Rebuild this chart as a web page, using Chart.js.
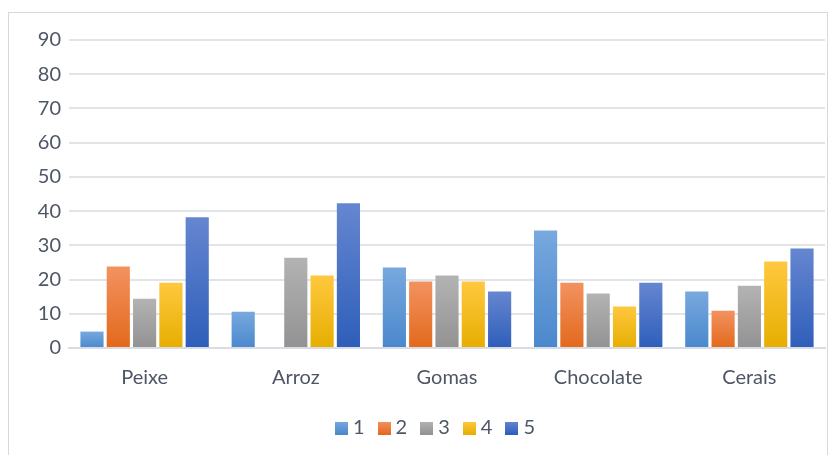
<!DOCTYPE html>
<html>
<head>
<meta charset="utf-8">
<script src="https://cdn.jsdelivr.net/npm/chart.js@4.4.1/dist/chart.umd.min.js"></script>
<style>
  html, body { margin: 0; padding: 0; background: #fff; }
  #wrap { position: relative; width: 840px; height: 455px; }
  #frame { position: absolute; left: 8px; top: 12px; width: 820px; height: 450px; border: 1px solid #D9D9D9; box-sizing: border-box; }
  canvas { position: absolute; left: 0; top: 0; }
</style>
</head>
<body>
<div id="wrap">
  <div id="frame"></div>
  <canvas id="chart" width="840" height="455"></canvas>
</div>
<script>
const categories = ["Peixe", "Arroz", "Gomas", "Chocolate", "Cerais"];
const serie1 = [4.8, 10.6, 23.5, 34.3, 16.5];
const serie2 = [23.8, 0, 19.4, 19.1, 10.9];
const serie3 = [14.4, 26.4, 21.2, 15.9, 18.2];
const serie4 = [19.1, 21.2, 19.4, 12.1, 25.3];
const serie5 = [38.2, 42.3, 16.5, 19.1, 29.1];
const yTicks = [0, 10, 20, 30, 40, 50, 60, 70, 80, 90];

// top / bottom colour of each bar's vertical gradient
const palette = [
  ["#78A8DE", "#4A88CD"],
  ["#F39260", "#E2691C"],
  ["#B3B3B3", "#929292"],
  ["#FFC83F", "#E6AE00"],
  ["#6686D0", "#2E5EBA"],
];

function barGradient(i) {
  return (c) => {
    const chart = c.chart;
    if (!chart.chartArea || c.parsed === undefined) return palette[i][1];
    const y = chart.scales.y;
    const top = y.getPixelForValue(c.parsed.y);
    const bottom = y.getPixelForValue(0);
    if (!(bottom - top > 0)) return palette[i][1];
    const g = chart.ctx.createLinearGradient(0, top, 0, bottom);
    g.addColorStop(0, palette[i][0]);
    g.addColorStop(1, palette[i][1]);
    return g;
  };
}

// small gradient squares for the legend
function legendSwatch(i) {
  const cv = document.createElement("canvas");
  cv.width = 13;
  cv.height = 13;
  const x = cv.getContext("2d");
  const g = x.createLinearGradient(0, 0, 0, 13);
  g.addColorStop(0, palette[i][0]);
  g.addColorStop(1, palette[i][1]);
  x.fillStyle = g;
  x.fillRect(0, 0, 13, 13);
  return cv;
}

// nudge the legend so it is centred under the plot area
const legendShift = {
  id: "legendShift",
  afterLayout(chart) {
    chart.legend.left += 16;
    chart.legend.right += 16;
  },
};

const series = [serie1, serie2, serie3, serie4, serie5];
const textColor = "#4E5666";
const font = "Lato, 'Noto Sans', sans-serif";

new Chart(document.getElementById("chart"), {
  type: "bar",
  data: {
    labels: categories,
    datasets: series.map((s, i) => ({
      label: String(i + 1),
      data: s,
      backgroundColor: barGradient(i),
      categoryPercentage: 0.87,
      barPercentage: 0.88,
    })),
  },
  plugins: [legendShift],
  options: {
    responsive: false,
    animation: false,
    layout: { padding: { top: 40, left: 18, right: 15, bottom: 7 } },
    plugins: {
      tooltip: { enabled: false },
      legend: {
        position: "bottom",
        labels: {
          color: textColor,
          font: { family: font, size: 20 },
          usePointStyle: true,
          // narrow box so the swatch sits close to its label
          boxWidth: 3,
          boxHeight: 13,
          padding: 18,
          generateLabels: (chart) =>
            chart.data.datasets.map((d, i) => ({
              text: d.label,
              pointStyle: legendSwatch(i),
              fillStyle: palette[i][1],
              strokeStyle: palette[i][1],
              lineWidth: 0,
              datasetIndex: i,
              fontColor: textColor,
            })),
        },
      },
    },
    scales: {
      x: {
        grid: { display: false, drawTicks: false },
        border: { color: "#D9DDE3", width: 2 },
        ticks: { color: textColor, font: { family: font, size: 20 }, padding: 18 },
        afterFit: (s) => { s.height -= 8; },
      },
      y: {
        min: 0,
        max: 90,
        afterBuildTicks: (s) => { s.ticks = yTicks.map((v) => ({ value: v })); },
        grid: { color: "#E1E4E9", lineWidth: 2, drawTicks: false },
        border: { display: false },
        ticks: { color: textColor, font: { family: font, size: 20 }, padding: 8 },
        afterFit: (s) => { s.width = 51; },
      },
    },
  },
});
</script>
</body>
</html>
